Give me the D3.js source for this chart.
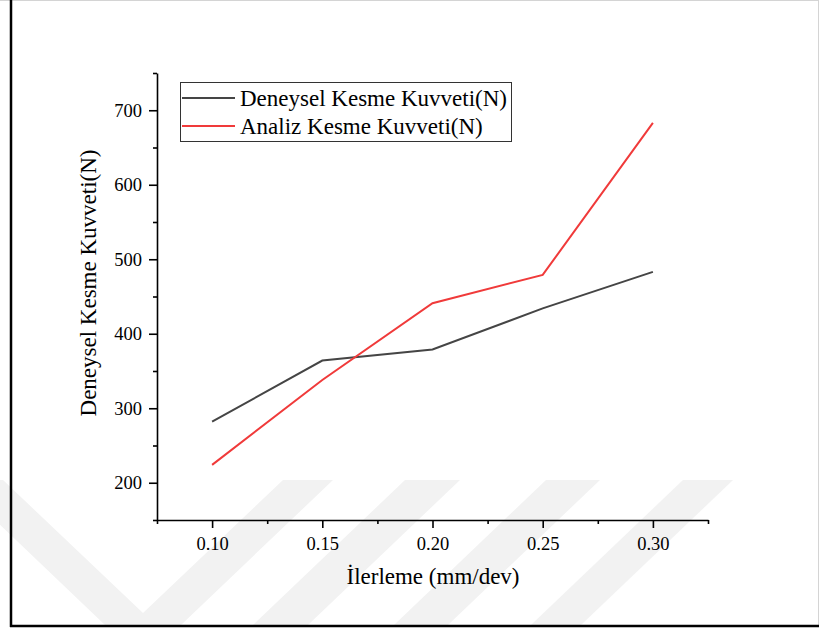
<!DOCTYPE html>
<html><head><meta charset="utf-8">
<script src="https://cdn.jsdelivr.net/npm/d3@7"></script>
<style>
body{margin:0;background:#fff}
svg{display:block}
text{font-family:"Liberation Serif","Times New Roman",serif;fill:#000}
</style>
</head><body><svg id="c" width="819" height="630"></svg>
<script>
// ---- data ----
const categories = [0.10, 0.15, 0.20, 0.25, 0.30];
const deneysel = [282, 364, 379, 434, 483];
const analiz = [224, 338, 441, 479, 683];
const seriesNames = ["Deneysel Kesme Kuvveti(N)", "Analiz Kesme Kuvveti(N)"];
const xTickValues = [0.10, 0.15, 0.20, 0.25, 0.30];
const xTickLabels = ["0.10", "0.15", "0.20", "0.25", "0.30"];
const xMinorTicks = [0.075, 0.125, 0.175, 0.225, 0.275, 0.325];
const yTickValues = [200, 300, 400, 500, 600, 700];
const yMinorTicks = [150, 250, 350, 450, 550, 650, 750];
const xTitle = "İlerleme (mm/dev)";
const yTitle = "Deneysel Kesme Kuvveti(N)";

// ---- drawing ----
const svg = d3.select("#c");
const W = 819, H = 630;
const colors = ["#454545", "#f03a3a"];

// faint background watermark
const wm = svg.append("g").attr("fill", "#f2f2f2");
const wmShapes = [
  [[-47,480],[3,480],[143,613],[283,480],[333,480],[181,625],[105,625]],
  [[405,480],[460,480],[308,625],[253,625]],
  [[546,480],[600,480],[448,625],[394,625]],
  [[683,480],[733,480],[581,625],[531,625]]
];
wm.selectAll("polygon").data(wmShapes).join("polygon")
  .attr("points", d => d.map(p => p.join(",")).join(" "));

// frame
svg.append("line").attr("x1",0).attr("x2",W).attr("y1",0.5).attr("y2",0.5).attr("stroke","#d4d4d4").attr("stroke-width",1);
svg.append("line").attr("x1",W-0.5).attr("x2",W-0.5).attr("y1",0).attr("y2",626).attr("stroke","#d4d4d4").attr("stroke-width",1);
svg.append("line").attr("x1",11).attr("x2",11).attr("y1",0).attr("y2",627).attr("stroke","#000").attr("stroke-width",2.5);
svg.append("line").attr("x1",10).attr("x2",W).attr("y1",626).attr("y2",626).attr("stroke","#000").attr("stroke-width",2.5);

const x = d3.scaleLinear().domain([0.075, 0.325]).range([157, 708]);
const y = d3.scaleLinear().domain([150, 750]).range([520, 73]);

const fontTick = "18.5px";

// x axis
const gx = svg.append("g").attr("transform", `translate(0,${y(150)})`);
gx.call(d3.axisBottom(x).tickValues(xTickValues)
  .tickFormat((d,i) => xTickLabels[i]).tickSizeInner(8).tickSizeOuter(0).tickPadding(9));
const gxm = svg.append("g").attr("transform", `translate(0,${y(150)})`);
gxm.call(d3.axisBottom(x).tickValues(xMinorTicks).tickFormat("").tickSizeInner(4).tickSizeOuter(0));
gxm.select(".domain").remove();

// y axis
const gy = svg.append("g").attr("transform", `translate(${x(0.075)},0)`);
gy.call(d3.axisLeft(y).tickValues(yTickValues).tickFormat(d3.format("d"))
  .tickSizeInner(8).tickSizeOuter(0).tickPadding(7));
const gym = svg.append("g").attr("transform", `translate(${x(0.075)},0)`);
gym.call(d3.axisLeft(y).tickValues(yMinorTicks).tickFormat("").tickSizeInner(4).tickSizeOuter(0));
gym.select(".domain").remove();

svg.selectAll(".domain, .tick line").attr("stroke", "#000").attr("stroke-width", 1.6);
svg.selectAll(".tick text").style("font-size", fontTick)
  .style("font-family", '"Liberation Serif","Times New Roman",serif').attr("fill", "#000");

// lines
const series = [deneysel, analiz];
const line = d3.line().x((d,i) => x(categories[i])).y(d => y(d));
svg.append("g").selectAll("path").data(series).join("path")
  .attr("d", d => line(d)).attr("fill", "none")
  .attr("stroke", (d,i) => colors[i]).attr("stroke-width", 2)
  .attr("stroke-linejoin", "miter");

// axis titles
svg.append("text").attr("x", 433).attr("y", 584).attr("text-anchor", "middle")
  .style("font-size", "23px").text(xTitle);
svg.append("text").attr("transform", "translate(96,283) rotate(-90)")
  .attr("text-anchor", "middle").style("font-size", "23px").text(yTitle);

// legend
const lg = svg.append("g");
lg.append("rect").attr("x", 180.5).attr("y", 82.5).attr("width", 331).attr("height", 59)
  .attr("fill", "#fff").attr("stroke", "#333").attr("stroke-width", 1);
const items = lg.selectAll("g.item").data(seriesNames).join("g").attr("class", "item")
  .attr("transform", (d,i) => `translate(0,${98 + i*28})`);
items.append("line").attr("x1", 182).attr("x2", 235).attr("y1", 0).attr("y2", 0)
  .attr("stroke", (d,i) => colors[i]).attr("stroke-width", 2);
items.append("text").attr("x", 240).attr("y", 7.5).style("font-size", "23px").text(d => d);
</script>
</body></html>
